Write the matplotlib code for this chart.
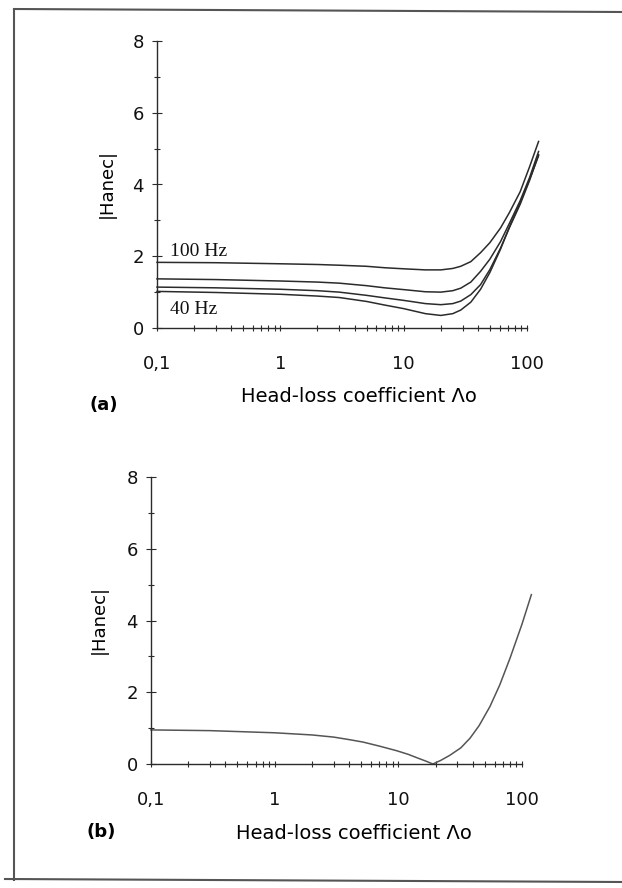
import matplotlib
matplotlib.use('Agg')
import matplotlib.pyplot as plt
from matplotlib.ticker import FixedLocator, MultipleLocator, NullFormatter
from matplotlib.lines import Line2D

plt.rcParams['font.family'] = ['DejaVu Sans']

# panel (a): four frequencies, 40 Hz ... 100 Hz
x_a = [0.1, 0.3, 1, 2, 3, 5, 7, 10, 15, 20, 25, 29, 35, 42, 50, 61, 72, 88, 105, 124]
h_100 = [1.83, 1.82, 1.79, 1.77, 1.75, 1.72, 1.68, 1.65, 1.62, 1.62, 1.66, 1.72, 1.85, 2.10, 2.38, 2.79, 3.22, 3.80, 4.50, 5.20]
h_80 = [1.37, 1.35, 1.31, 1.28, 1.25, 1.18, 1.12, 1.07, 1.01, 1.00, 1.04, 1.11, 1.28, 1.58, 1.92, 2.41, 2.92, 3.55, 4.20, 4.92]
h_60 = [1.14, 1.12, 1.08, 1.04, 1.00, 0.91, 0.84, 0.77, 0.68, 0.65, 0.68, 0.75, 0.93, 1.21, 1.63, 2.23, 2.80, 3.45, 4.12, 4.83]
h_40 = [1.02, 0.99, 0.94, 0.89, 0.85, 0.74, 0.64, 0.54, 0.40, 0.35, 0.40, 0.50, 0.72, 1.08, 1.55, 2.20, 2.82, 3.50, 4.15, 4.80]

# panel (b)
x_b = [0.1, 0.3, 1, 2, 3, 4, 5.2, 7, 9.7, 12, 14, 17, 19, 22, 26, 32, 38, 45, 55, 66, 80, 100, 119]
h_b = [0.95, 0.93, 0.87, 0.81, 0.75, 0.68, 0.61, 0.50, 0.37, 0.27, 0.18, 0.07, 0.0, 0.10, 0.24, 0.45, 0.72, 1.07, 1.60, 2.20, 2.95, 3.90, 4.72]

xticks = [0.1, 1, 10, 100]
xticklabels = ['0,1', '1', '10', '100']
yticks = [0, 2, 4, 6, 8]

W, H = 622, 888
fig = plt.figure(figsize=(W / 100, H / 100), dpi=100)

ink = '#2b2b2b'


def setup(ax):
    ax.set_xscale('log')
    ax.set_xlim(0.1, 125)
    ax.set_ylim(0, 8)
    for s in ['top', 'right']:
        ax.spines[s].set_visible(False)
    ax.spines['left'].set_bounds(0, 8)
    ax.spines['bottom'].set_bounds(0.1, 100)
    for s in ['left', 'bottom']:
        ax.spines[s].set_color(ink)
        ax.spines[s].set_linewidth(1.0)
    ax.xaxis.set_major_locator(FixedLocator(xticks))
    ax.set_xticklabels(xticklabels)
    minors = [m * d for d in [0.1, 1, 10] for m in range(2, 10)]
    ax.xaxis.set_minor_locator(FixedLocator(minors))
    ax.xaxis.set_minor_formatter(NullFormatter())
    ax.yaxis.set_major_locator(FixedLocator(yticks))
    ax.yaxis.set_minor_locator(MultipleLocator(1))
    ax.tick_params(axis='x', which='both', direction='inout', length=5, width=0.8,
                   color=ink, pad=17, labelsize=13, labelcolor='#111')
    ax.tick_params(axis='y', which='major', direction='inout', length=7, width=0.8,
                   color=ink, pad=6, labelsize=13, labelcolor='#111')
    ax.tick_params(axis='y', which='minor', direction='inout', length=5, width=0.8, color=ink)
    ax.patch.set_visible(False)


# panel (a)
ax1 = fig.add_axes([157 / W, 1 - 328 / H, 382 / W, 287 / H])
setup(ax1)
for h in [h_100, h_80, h_60, h_40]:
    ax1.plot(x_a, h, color=ink, lw=1.1, clip_on=False)
ax1.text(170 / W, 1 - 252 / H, '100 Hz', transform=fig.transFigure, family='Liberation Serif',
         fontsize=14, va='center', ha='left', color='#111')
ax1.text(170 / W, 1 - 310 / H, '40 Hz', transform=fig.transFigure, family='Liberation Serif',
         fontsize=14, va='center', ha='left', color='#111')

# panel (b)
ax2 = fig.add_axes([151 / W, 1 - 764 / H, 383 / W, 287 / H])
setup(ax2)
ax2.plot(x_b, h_b, color='#555', lw=1.1, clip_on=False)

# axis labels and panel letters
fig.text(107 / W, 1 - 183 / H, '|Hanec|', rotation=90, fontsize=13, ha='center', va='center')
fig.text(99 / W, 1 - 620 / H, '|Hanec|', rotation=90, fontsize=13, ha='center', va='center')
fig.text(359 / W, 1 - 396 / H, 'Head-loss coefficient Λo', fontsize=14, ha='center', va='center')
fig.text(354 / W, 1 - 833 / H, 'Head-loss coefficient Λo', fontsize=14, ha='center', va='center')
fig.text(89 / W, 1 - 405 / H, '(a)', fontsize=13, fontweight='bold', ha='left', va='center')
fig.text(87 / W, 1 - 832 / H, '(b)', fontsize=13, fontweight='bold', ha='left', va='center')

# scanned page frame
frame = '#555'
fig.add_artist(Line2D([14 / W, 14 / W], [1 - 10 / H, 1 - 880 / H], color=frame, lw=1.5))
fig.add_artist(Line2D([14 / W, 1.0], [1 - 9 / H, 1 - 12 / H], color=frame, lw=1.5))
fig.add_artist(Line2D([5 / W, 1.0], [1 - 879 / H, 1 - 882 / H], color=frame, lw=1.5))

fig.savefig('out.png', dpi=100)
